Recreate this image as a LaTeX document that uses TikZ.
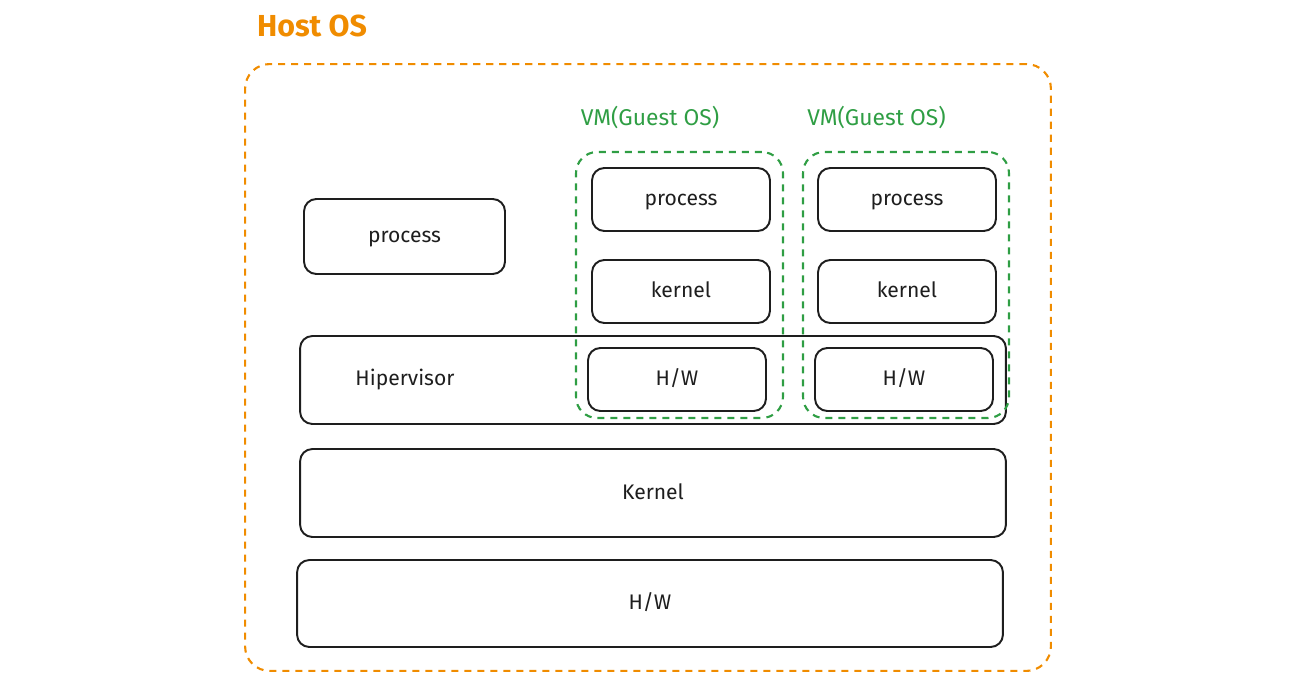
\documentclass[tikz,border=0pt]{standalone}
\usepackage{fontspec}
\setmainfont{Fira Sans}
\usepackage{tikz}
\usepackage{xcolor}
\usetikzlibrary{positioning,calc}
\definecolor{host}{HTML}{F08C00}
\definecolor{guest}{HTML}{2F9E44}
\definecolor{ink}{HTML}{1E1E1E}
\tikzset{
  block/.style={draw=ink, rounded corners=7pt, line width=1.1pt,
                align=center, inner sep=0pt, font=\large, text=ink,
                text height=1.6ex, text depth=0.3ex},
  hostbox/.style={draw=host, dash pattern=on 4pt off 3.4pt, rounded corners=14pt,
                  line width=1.2pt, inner sep=0pt},
  vmbox/.style={draw=guest, dash pattern=on 4pt off 3.4pt, rounded corners=12pt,
                line width=1.2pt, inner sep=0pt},
  vmlabel/.style={font=\fontsize{13}{15}\selectfont, text=guest, inner sep=0pt}
}
\begin{document}
\begin{tikzpicture}[x=0.02cm,y=-0.02cm]
    \useasboundingbox (0,0) rectangle (1295,682);

    % host OS frame
    \node[hostbox,minimum width=16.12cm,minimum height=12.14cm] (host) at (648,367.5) {};
    \node[font=\LARGE\bfseries,text=host,inner sep=0pt] (hostlbl) at (312,26) {Host OS};

    % host side
    \node[block,minimum width=4.02cm,minimum height=1.5cm] (hproc) at (404.5,236.5) {process};
    \node[block,minimum width=14.12cm,minimum height=1.76cm] (hyp) at (653,380) {};
    \node[font=\large,text=ink,inner sep=0pt] (hyplbl) at (405,380) {Hipervisor};
    \node[block,minimum width=14.12cm,minimum height=1.76cm] (hkern) at (653,493) {Kernel};
    \node[block,minimum width=14.12cm,minimum height=1.74cm] (hhw) at (650,603.5) {H/W};

    % guest VMs
    \foreach \n/\x/\hx in {1/681/677, 2/907/904} {
      \node[block,minimum width=3.56cm,minimum height=1.26cm] (proc\n) at (\x,199.5) {process};
      \node[block,minimum width=3.56cm,minimum height=1.26cm] (kern\n) at (\x,291.5) {kernel};
      \node[block,minimum width=3.56cm,minimum height=1.26cm] (hw\n) at (\hx,379.5) {H/W};
    }
    \node[vmbox,minimum width=4.14cm,minimum height=5.32cm] (vm1) at (679.5,285) {};
    \node[vmbox,minimum width=4.12cm,minimum height=5.32cm] (vm2) at (906,285) {};
    \node[vmlabel] (vmlbl1) at (650,118) {VM(Guest OS)};
    \node[vmlabel] (vmlbl2) at (876.5,118) {VM(Guest OS)};
\end{tikzpicture}
\end{document}
